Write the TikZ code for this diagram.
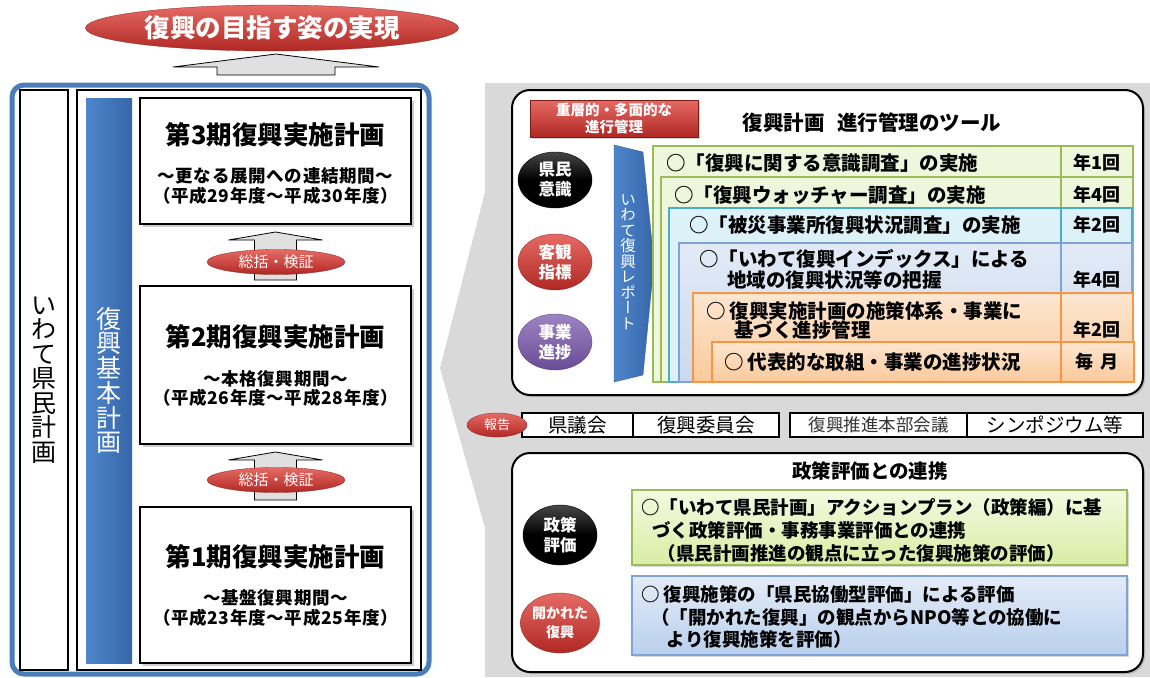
\documentclass[tikz,border=0pt]{standalone}
\usepackage{fontspec}
\setmainfont{Noto Sans CJK JP}
\newfontfamily\vjp{Noto Sans CJK JP}[RawFeature=+vert]
\newfontfamily\spjp{Noto Sans CJK JP}[LetterSpace=4]
\usetikzlibrary{shapes.geometric,shadows,calc}
\definecolor{bggray}{HTML}{D9D9D9}
\definecolor{frameblue}{HTML}{4A7EBB}
\definecolor{barblueL}{HTML}{4F86CC}
\definecolor{barblueD}{HTML}{3566A8}
\definecolor{redT}{HTML}{E66A64}
\definecolor{redB}{HTML}{B02824}
\definecolor{purT}{HTML}{9D84C4}
\definecolor{purB}{HTML}{6A4B95}
\definecolor{grnF}{HTML}{EEF6DC}
\definecolor{grnD}{HTML}{9BBB59}
\definecolor{cyaF}{HTML}{DDF2F8}
\definecolor{cyaD}{HTML}{4BACC6}
\definecolor{bluF}{HTML}{E2EAF6}
\definecolor{bluF2}{HTML}{C9D9F0}
\definecolor{bluD}{HTML}{7FA3D4}
\definecolor{ornF}{HTML}{FDE6D0}
\definecolor{ornF2}{HTML}{FBC99A}
\definecolor{ornD}{HTML}{F79646}
\definecolor{lgrnT}{HTML}{F4FAE2}
\definecolor{lgrnB}{HTML}{D8EDA4}
\definecolor{lbluT}{HTML}{E3ECF8}
\definecolor{lbluB}{HTML}{B9CFEC}
\newcommand\fsz[2]{\fontsize{#1}{#2}\selectfont}
\newcommand\blockup[5]{\draw[blockarr] #1 -- ++(#2,#4) -- ++({#3-#2},0) -- ++(0,{#5-#4}) -- ++({-2*#3},0) -- ++(0,{#4-#5}) -- ++({#3-#2},0) -- cycle;}
\begin{document}
\begin{tikzpicture}[x=1pt,y=-1pt,
  every node/.style={inner sep=0pt, outer sep=0pt},
  blockarr/.style={draw=black, line width=0.8pt, fill=black!12},
  planbox/.style={draw=black, line width=2.5pt, fill=white, minimum width=271pt,
    drop shadow={shadow xshift=3pt, shadow yshift=-3pt, opacity=0.4}},
  plantitle/.style={font=\fsz{25.5}{28}\bfseries},
  plansub/.style={font=\spjp\fsz{17.5}{19.5}\bfseries, align=center},
  redell/.style={ellipse, top color=redT, bottom color=redB, draw=redB!80!black, line width=0.3pt, text=white},
  blkell/.style={ellipse, top color=black!72, bottom color=black, middle color=black, draw=black, text=white, minimum width=74pt, minimum height=56pt, font=\fsz{16.5}{20}\bfseries, align=center},
  purell/.style={ellipse, top color=purT, bottom color=purB, draw=purB!80!black, line width=0.3pt, text=white, minimum width=74pt, minimum height=56pt, font=\fsz{16.5}{20}\bfseries, align=center},
  bigell/.style={redell, minimum width=74pt, minimum height=56pt, font=\fsz{16.5}{20}\bfseries, align=center},
  panel/.style={draw=black, line width=2pt, fill=white, rounded corners=18pt,
    drop shadow={shadow xshift=2pt, shadow yshift=-2pt, opacity=0.35}},
  rowtxt/.style={anchor=west, font=\fsz{19.5}{21}\bfseries, align=left},
  freq/.style={font=\fsz{18}{20}\bfseries},
  rptbox/.style={draw=black, line width=1.3pt, fill=white, minimum height=24pt, font=\fsz{19.5}{20}},
  evaltxt/.style={anchor=west, font=\fsz{18.5}{22.8}\bfseries, align=left}
]
\useasboundingbox (0,0) rectangle (1150,677);

% grey callout background
\fill[bggray] (485,83) -- (1150,83) -- (1150,677) -- (485,677) -- (485,528) -- (440,368) -- (485,192) -- cycle;

% goal
\node[redell, minimum width=373pt, minimum height=46pt, font=\fsz{25.5}{27}\bfseries] (goal) at (272,28) {復興の目指す姿の実現};

% left frame
\draw[frameblue, line width=5pt, fill=white, rounded corners=12pt] (12,85) rectangle (429,674);
\node[draw=black, line width=2.5pt, fill=white, minimum width=48pt, minimum height=580pt] (kenmin) at (44,380) {};
\node[font=\fsz{25}{24.5}, align=center] (kenmintxt) at (kenmin.center) {い\\わ\\て\\県\\民\\計\\画};
\node[draw=black, line width=2.5pt, fill=white, minimum width=344pt, minimum height=580pt] (fukko) at (249,380) {};
\node[left color=barblueL, right color=barblueD, minimum width=46pt, minimum height=565pt] (bar) at (109,380.5) {};
\node[font=\fsz{25}{24.7}, text=white, align=center] (bartxt) at (bar.center) {復\\興\\基\\本\\計\\画};

% plan boxes
\node[planbox, minimum height=126pt] (p3) at (275.5,161) {};
\node[plantitle] (p3t) at (275.5,135) {第3期復興実施計画};
\node[plansub] (p3s) at (275.5,186) {～更なる展開への連結期間～\\（平成29年度～平成30年度）};

\node[planbox, minimum height=158pt] (p2) at (275.5,365) {};
\node[plantitle] (p2t) at (275.5,337) {第2期復興実施計画};
\node[plansub] (p2s) at (275.5,388.5) {～本格復興期間～\\（平成26年度～平成28年度）};

\node[planbox, minimum height=156pt] (p1) at (275.5,585) {};
\node[plantitle] (p1t) at (275.5,557) {第1期復興実施計画};
\node[plansub] (p1s) at (275.5,608) {～基盤復興期間～\\（平成23年度～平成25年度）};

% block arrows
\blockup{($(goal.south)+(4,3)$)}{103}{59}{13}{21}
\blockup{($(p3.south)+(0,8)$)}{47}{21}{8}{48}
\blockup{($(p2.south)+(0,8)$)}{47}{21}{8}{48}
\node[redell, minimum width=138pt, minimum height=25pt, font=\fsz{15}{16}] (v23) at (276,262) {総括・検証};
\node[redell, minimum width=138pt, minimum height=25pt, font=\fsz{15}{16}] (v12) at (276,480) {総括・検証};

% ---------- right upper panel ----------
\node[panel, minimum width=631pt, minimum height=305pt] (panA) at (827.5,242.5) {};
\node[top color=redT, bottom color=redB, draw=redB!70!black, line width=0.3pt, minimum width=168pt, minimum height=37pt, text=white, font=\fsz{14.5}{16.5}\bfseries, align=center,
  drop shadow={shadow xshift=2pt, shadow yshift=-2pt, opacity=0.35}] (tag) at (614,118.5) {重層的・多面的な\\進行管理};
\node[font=\fsz{20.5}{22}\bfseries] (panAt) at (872,123) {復興計画\hspace{0.6em}進行管理のツール};

\node[blkell] (e1) at (555,180) {県民\\意識};
\node[bigell] (e2) at (555,262) {客観\\指標};
\node[purell] (e3) at (555,342) {事業\\進捗};

% report bar
\shade[left color=barblueL, right color=barblueD, draw=barblueD!80!black, line width=0.3pt] (614,145) -- (643,152) -- (654,263) -- (643,375) -- (614,382) -- cycle;
\node[font=\vjp\fsz{15.5}{15.5}, text=white, align=center] (rpt) at (628,262) {い\\わ\\て\\復\\興\\レ\\ポ\\ー\\ト};

\coordinate (sepx) at (1061,0);
% stacked boxes
\node[draw=grnD, line width=1.2pt, fill=grnF, minimum width=480pt, minimum height=236pt, anchor=north west] (b1) at (653,146) {};
\draw[grnD, line width=1.2pt] (b1.north -| sepx) -- (b1.south -| sepx);
\node[draw=grnD, line width=1.2pt, fill=grnF, minimum width=472pt, minimum height=205pt, anchor=north west] (b2) at (661,177) {};
\draw[grnD, line width=1.2pt] (b2.north -| sepx) -- (b2.south -| sepx);
\node[draw=cyaD, line width=1.2pt, fill=cyaF, minimum width=463pt, minimum height=174pt, anchor=north west] (b3) at (669,208) {};
\draw[cyaD, line width=1.2pt] (b3.north -| sepx) -- (b3.south -| sepx);
\node[draw=bluD, line width=1.2pt, top color=bluF, bottom color=bluF2, minimum width=453pt, minimum height=139pt, anchor=north west] (b4) at (679,243) {};
\draw[bluD, line width=1.2pt] (b4.north -| sepx) -- (b4.south -| sepx);
\node[draw=ornD, line width=1.2pt, top color=ornF, bottom color=ornF2, minimum width=440pt, minimum height=89pt, anchor=north west] (b5) at (693,293) {};
\draw[ornD, line width=1.2pt] (b5.north -| sepx) -- (b5.south -| sepx);
\node[draw=ornD, line width=1.2pt, top color=ornF, bottom color=ornF2, minimum width=422pt, minimum height=40pt, anchor=north west] (b6) at (712,342) {};
\draw[ornD, line width=1.2pt] (b6.north -| sepx) -- (b6.south -| sepx);

\node[rowtxt] (r1) at (666,163) {○「復興に関する意識調査」の実施};
\node[rowtxt] (r2) at (674,195) {○「復興ウォッチャー調査」の実施};
\node[rowtxt] (r3) at (689,225) {○「被災事業所復興状況調査」の実施};
\node[rowtxt] (r4) at (699,269.5) {○「いわて復興インデックス」による\\\hspace*{1.45em}地域の復興状況等の把握};
\node[rowtxt, font=\fsz{19.5}{19}\bfseries] (r5) at (706,321) {○ 復興実施計画の施策体系・事業に\\\hspace*{1.45em}基づく進捗管理};
\node[rowtxt] (r6) at (724,362) {○ 代表的な取組・事業の進捗状況};

\node[freq] (f1) at (1097,163) {年1回};
\node[freq] (f2) at (1097,195) {年4回};
\node[freq] (f3) at (1097,225) {年2回};
\node[freq] (f4) at (1097,280) {年4回};
\node[freq] (f5) at (1097,330) {年2回};
\node[freq] (f6) at (1097,362) {毎\hspace{0.4em}月};

% report row
\node[rptbox, minimum width=111pt, anchor=west] (h1) at (522,425) {県議会};
\node[rptbox, minimum width=146pt, anchor=west] (h2) at (h1.east) {復興委員会};
\node[rptbox, minimum width=177pt, anchor=west, font=\fsz{17.5}{18}, text=black!80] (h3) at (790,425) {復興推進本部会議};
\node[rptbox, minimum width=176pt, anchor=west] (h4) at (h3.east) {シンポジウム等};
\node[redell, minimum width=60pt, minimum height=24pt, font=\fsz{13}{14}] (rep) at (497,425) {報告};

% ---------- right lower panel ----------
\node[panel, minimum width=631pt, minimum height=219pt] (panB) at (827.5,562.5) {};
\node[font=\fsz{19.5}{21}\bfseries] (panBt) at (870,471) {政策評価との連携};
\node[blkell, minimum height=60pt] (e4) at (560,535) {政策\\評価};
\node[bigell, minimum height=60pt, font=\fsz{14}{19}\bfseries] (e5) at (560,623) {開かれた\\復興};

\node[draw=grnD, line width=1.2pt, top color=lgrnT, bottom color=lgrnB, minimum width=495pt, minimum height=75pt, anchor=north west,
  drop shadow={shadow xshift=2pt, shadow yshift=-2pt, opacity=0.3}] (g1) at (632,490) {};
\node[evaltxt] (g1t) at (641,530.5) {○「いわて県民計画」アクションプラン（政策編）に基\\\hspace*{0.6em}づく政策評価・事務事業評価との連携\\\hspace*{0.9em}（県民計画推進の観点に立った復興施策の評価）};

\node[draw=bluD, line width=1.2pt, top color=lbluT, bottom color=lbluB, minimum width=495pt, minimum height=79pt, anchor=north west,
  drop shadow={shadow xshift=2pt, shadow yshift=-2pt, opacity=0.3}] (g2) at (632,576) {};
\node[evaltxt] (g2t) at (641,617) {○ 復興施策の「県民協働型評価」による評価\\\hspace*{0.55em}（「開かれた復興」の観点からNPO等との協働に\\\hspace*{1.4em}より復興施策を評価）};
\end{tikzpicture}
\end{document}
